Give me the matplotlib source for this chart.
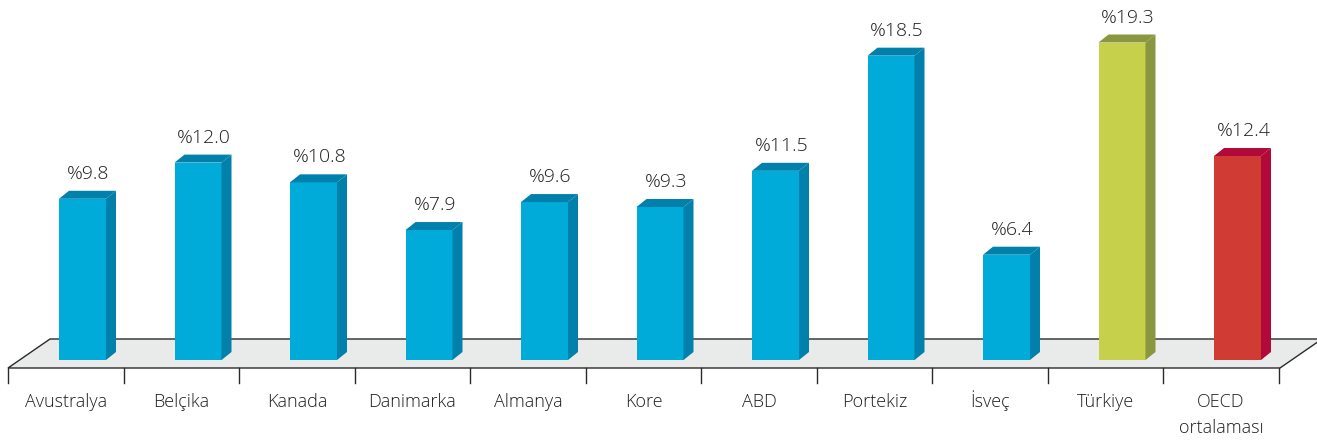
import numpy as np
import matplotlib.pyplot as plt
from matplotlib.patches import Polygon

countries = ['Avustralya', 'Belçika', 'Kanada', 'Danimarka', 'Almanya', 'Kore',
             'ABD', 'Portekiz', 'İsveç', 'Türkiye', 'OECD\nortalaması']
values = [9.8, 12.0, 10.8, 7.9, 9.6, 9.3, 11.5, 18.5, 6.4, 19.3, 12.4]
value_labels = ['%9.8', '%12.0', '%10.8', '%7.9', '%9.6', '%9.3',
                '%11.5', '%18.5', '%6.4', '%19.3', '%12.4']

front_colors = ['#00aad9'] * 9 + ['#c7d04a', '#d03c33']
side_colors = ['#0080aa'] * 9 + ['#8a9640', '#b0093a']

plt.rcParams['font.family'] = ['Open Sans', 'DejaVu Sans']

fig = plt.figure(figsize=(13.17, 4.4), dpi=100)
ax = fig.add_axes([0, 0, 1, 1])

# pixel -> data mapping: category i centre at 66 + 115.5*i px, value v at 360 - 16.45*v px
px_cat = 115.5
px_val = 16.45
ax.set_xlim((0 - 66) / px_cat, (1317 - 66) / px_cat)
ax.set_ylim((360 - 440) / px_val, (360 - 0) / px_val)
ax.axis('off')

n = len(values)
# floor plane
f_front = -8 / px_val
f_back = 21 / px_val
f_left = (8 - 66) / px_cat
f_right = (1280 - 66) / px_cat
f_dx = 42 / px_cat
floor = Polygon([(f_left, f_front), (f_right, f_front), (f_right + f_dx, f_back),
                 (f_left + f_dx, f_back)], closed=True, facecolor='#e9ebea',
                edgecolor='#2a2a2a', linewidth=1.0, zorder=1)
ax.add_patch(floor)

# separators under floor
for i in range(n + 1):
    x = i - 0.5
    ax.plot([x, x], [f_front, (360 - 383) / px_val], color='#2a2a2a', lw=1.0, zorder=1)

# bars
offset = 16.5 / px_cat
width = 47 / px_cat
dx = 10 / px_cat
dy = 8 / px_val
xs = np.arange(n) + offset
ax.bar(xs, values, width=width, color=front_colors, zorder=3, linewidth=0)
for x, v, sc in zip(xs, values, side_colors):
    r = x + width / 2
    l = x - width / 2
    ax.add_patch(Polygon([(r, 0), (r + dx, dy), (r + dx, v + dy), (r, v)],
                         closed=True, facecolor=sc, edgecolor='none', zorder=3))
    ax.add_patch(Polygon([(l, v), (r, v), (r + dx, v + dy), (l + dx, v + dy)],
                         closed=True, facecolor=sc, edgecolor='none', zorder=3))

txt_color = '#1e1e1e'
for x, v, lab in zip(xs, values, value_labels):
    ax.text(x + dx / 2 + 1 / px_cat, v + dy + 12 / px_val, lab, ha='center', va='baseline',
            fontsize=14, color=txt_color, fontweight='light')

for i, c in enumerate(countries):
    ax.text(i, (360 - 407) / px_val, c.split('\n')[0], ha='center', va='baseline',
            fontsize=13, color=txt_color, fontweight='light')
    if '\n' in c:
        ax.text(i, (360 - 433) / px_val, c.split('\n')[1], ha='center', va='baseline',
                fontsize=13, color=txt_color, fontweight='light')

fig.savefig('out.png', dpi=100)
